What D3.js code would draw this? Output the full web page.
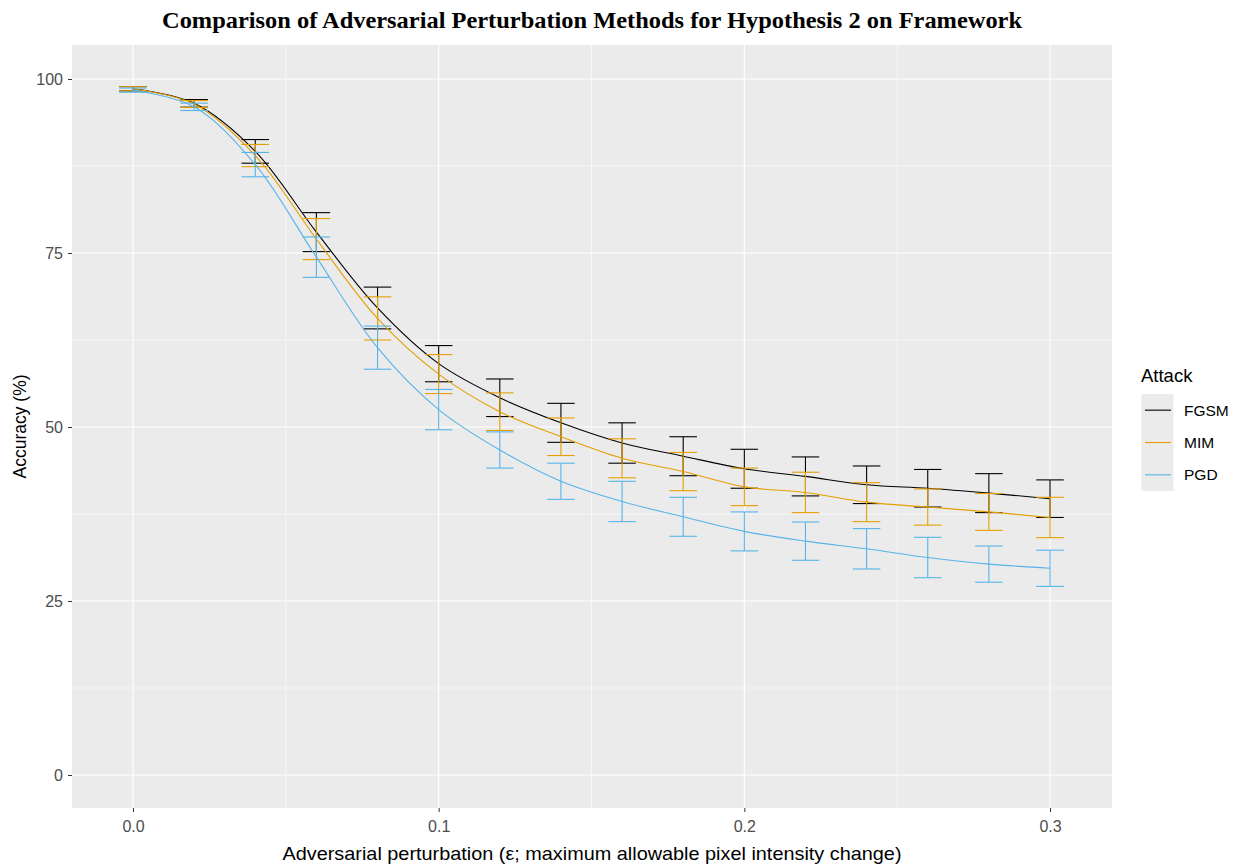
<!DOCTYPE html>
<html>
<head>
<meta charset="utf-8">
<script src="https://cdn.jsdelivr.net/npm/d3@7"></script>
<style>
  body { margin: 0; background: #fff; }
  svg { display: block; }
</style>
</head>
<body>
<div id="chart"></div>
<script>
// Data
var eps = [0, 0.02, 0.04, 0.06, 0.08, 0.10, 0.12, 0.14, 0.16, 0.18, 0.20, 0.22, 0.24, 0.26, 0.28, 0.30];
var attacks = ["FGSM", "MIM", "PGD"];
var fgsm    = [98.6, 96.5, 89.6, 78.0, 67.1, 59.1, 54.2, 50.6, 47.7, 45.8, 44.0, 42.9, 41.7, 41.2, 40.5, 39.7];
var fgsmErr = [0.3, 0.55, 1.7, 2.8, 3.0, 2.6, 2.7, 2.8, 2.9, 2.8, 2.8, 2.8, 2.7, 2.7, 2.8, 2.7];
var mim     = [98.6, 96.4, 89.0, 77.0, 65.6, 57.6, 52.2, 48.6, 45.5, 43.6, 41.4, 40.6, 39.2, 38.5, 37.8, 37.0];
var mimErr  = [0.3, 0.5, 1.6, 2.95, 3.1, 2.8, 2.7, 2.7, 2.8, 2.75, 2.7, 2.9, 2.8, 2.6, 2.65, 2.9];
var pgd     = [98.4, 96.0, 87.7, 74.4, 61.4, 52.5, 46.7, 42.2, 39.3, 37.1, 35.0, 33.6, 32.5, 31.25, 30.3, 29.7];
var pgdErr  = [0.3, 0.53, 1.75, 2.9, 3.1, 2.9, 2.6, 2.6, 2.9, 2.8, 2.8, 2.75, 2.9, 2.9, 2.6, 2.6];
var xTicks = [0, 0.1, 0.2, 0.3];
var xMinor = [0.05, 0.15, 0.25];
var yTicks = [0, 25, 50, 75, 100];
var yMinor = [12.5, 37.5, 62.5, 87.5];

var colors = { FGSM: "#000000", MIM: "#E69F00", PGD: "#56B4E9" };
var series = [
  { name: "FGSM", mean: fgsm, err: fgsmErr },
  { name: "MIM", mean: mim, err: mimErr },
  { name: "PGD", mean: pgd, err: pgdErr }
];

var W = 1242, H = 867;
var panel = { left: 72, right: 1112, top: 45, bottom: 808 };
var sans = "'Liberation Sans', Arial, sans-serif";

var svg = d3.select("#chart").append("svg")
  .attr("width", W).attr("height", H);

// scales: 0 -> 133px, 0.3 -> 1050px ; 0 -> 775px, 100 -> 79px
var x = d3.scaleLinear().domain([0, 0.3]).range([133, 1050]);
var y = d3.scaleLinear().domain([0, 100]).range([775, 79]);

// panel background
svg.append("rect")
  .attr("x", panel.left).attr("y", panel.top)
  .attr("width", panel.right - panel.left)
  .attr("height", panel.bottom - panel.top)
  .attr("fill", "#EBEBEB");

// grid
var grid = svg.append("g");
grid.selectAll(".ymin").data(yMinor).enter().append("line")
  .attr("x1", panel.left).attr("x2", panel.right)
  .attr("y1", function(d){ return y(d); }).attr("y2", function(d){ return y(d); })
  .attr("stroke", "#fff").attr("stroke-width", 0.55);
grid.selectAll(".xmin").data(xMinor).enter().append("line")
  .attr("y1", panel.top).attr("y2", panel.bottom)
  .attr("x1", function(d){ return x(d); }).attr("x2", function(d){ return x(d); })
  .attr("stroke", "#fff").attr("stroke-width", 0.55);
grid.selectAll(".ymaj").data(yTicks).enter().append("line")
  .attr("x1", panel.left).attr("x2", panel.right)
  .attr("y1", function(d){ return y(d); }).attr("y2", function(d){ return y(d); })
  .attr("stroke", "#fff").attr("stroke-width", 1.1);
grid.selectAll(".xmaj").data(xTicks).enter().append("line")
  .attr("y1", panel.top).attr("y2", panel.bottom)
  .attr("x1", function(d){ return x(d); }).attr("x2", function(d){ return x(d); })
  .attr("stroke", "#fff").attr("stroke-width", 1.1);

// axes
var xAxis = d3.axisBottom(x).tickValues(xTicks).tickFormat(d3.format(".1f")).tickSize(4).tickPadding(9);
var yAxis = d3.axisLeft(y).tickValues(yTicks).tickSize(4).tickPadding(5);

var gx = svg.append("g").attr("transform", "translate(0," + panel.bottom + ")").call(xAxis);
var gy = svg.append("g").attr("transform", "translate(" + panel.left + ",0)").call(yAxis);
[gx, gy].forEach(function(g) {
  g.select(".domain").remove();
  g.selectAll(".tick line").attr("stroke", "#333").attr("stroke-width", 1);
  g.selectAll(".tick text")
    .attr("fill", "#4D4D4D")
    .style("font-family", sans)
    .style("font-size", "16px");
});

// lines and error bars
var capHalf = 0.0045;
var line = d3.line()
  .x(function(d){ return x(d.e); })
  .y(function(d){ return y(d.v); })
  .curve(d3.curveCatmullRom);

series.forEach(function(s) {
  var pts = eps.map(function(e, i){ return { e: e, v: s.mean[i], err: s.err[i] }; });
  var g = svg.append("g");
  g.append("path").datum(pts)
    .attr("d", line)
    .attr("fill", "none")
    .attr("stroke", colors[s.name])
    .attr("stroke-width", 1.1);

  var eb = g.selectAll(".eb").data(pts).enter().append("g")
    .attr("stroke", colors[s.name])
    .attr("stroke-width", 1.1)
    .attr("fill", "none");
  eb.append("line")
    .attr("x1", function(d){ return x(d.e); }).attr("x2", function(d){ return x(d.e); })
    .attr("y1", function(d){ return y(d.v + d.err); }).attr("y2", function(d){ return y(d.v - d.err); });
  eb.append("line")
    .attr("x1", function(d){ return x(d.e - capHalf); }).attr("x2", function(d){ return x(d.e + capHalf); })
    .attr("y1", function(d){ return y(d.v + d.err); }).attr("y2", function(d){ return y(d.v + d.err); });
  eb.append("line")
    .attr("x1", function(d){ return x(d.e - capHalf); }).attr("x2", function(d){ return x(d.e + capHalf); })
    .attr("y1", function(d){ return y(d.v - d.err); }).attr("y2", function(d){ return y(d.v - d.err); });
});

// title
svg.append("text")
  .attr("x", (panel.left + panel.right) / 2)
  .attr("y", 28)
  .attr("text-anchor", "middle")
  .attr("textLength", 860)
  .attr("lengthAdjust", "spacingAndGlyphs")
  .style("font-family", "'Liberation Serif', 'Times New Roman', serif")
  .style("font-weight", "bold")
  .style("font-size", "23px")
  .attr("fill", "#000")
  .text("Comparison of Adversarial Perturbation Methods for Hypothesis 2 on Framework");

// axis titles
svg.append("text")
  .attr("x", (panel.left + panel.right) / 2)
  .attr("y", 860)
  .attr("text-anchor", "middle")
  .attr("textLength", 619)
  .attr("lengthAdjust", "spacingAndGlyphs")
  .style("font-family", sans)
  .style("font-size", "18.5px")
  .attr("fill", "#000")
  .text("Adversarial perturbation (ε; maximum allowable pixel intensity change)");

svg.append("text")
  .attr("transform", "translate(26," + ((panel.top + panel.bottom) / 2) + ") rotate(-90)")
  .attr("text-anchor", "middle")
  .style("font-family", sans)
  .style("font-size", "17.5px")
  .attr("fill", "#000")
  .text("Accuracy (%)");

// legend
var lg = svg.append("g").attr("transform", "translate(1141,0)");
lg.append("text")
  .attr("x", 0).attr("y", 382)
  .style("font-family", sans)
  .style("font-size", "18.5px")
  .attr("fill", "#000")
  .text("Attack");
var keyY = d3.scaleBand().domain(attacks).range([394, 491]);
lg.append("rect")
  .attr("x", 0.5).attr("y", keyY.range()[0])
  .attr("width", 32).attr("height", keyY.range()[1] - keyY.range()[0])
  .attr("fill", "#EBEBEB");
attacks.forEach(function(a) {
  var cy = keyY(a) + keyY.bandwidth() / 2;
  lg.append("line")
    .attr("x1", 4).attr("x2", 30).attr("y1", cy).attr("y2", cy)
    .attr("stroke", colors[a]).attr("stroke-width", 1.1);
  lg.append("text")
    .attr("x", 43).attr("y", cy + 5.5)
    .style("font-family", sans)
    .style("font-size", "15.5px")
    .attr("fill", "#000")
    .text(a);
});
</script>
</body>
</html>
